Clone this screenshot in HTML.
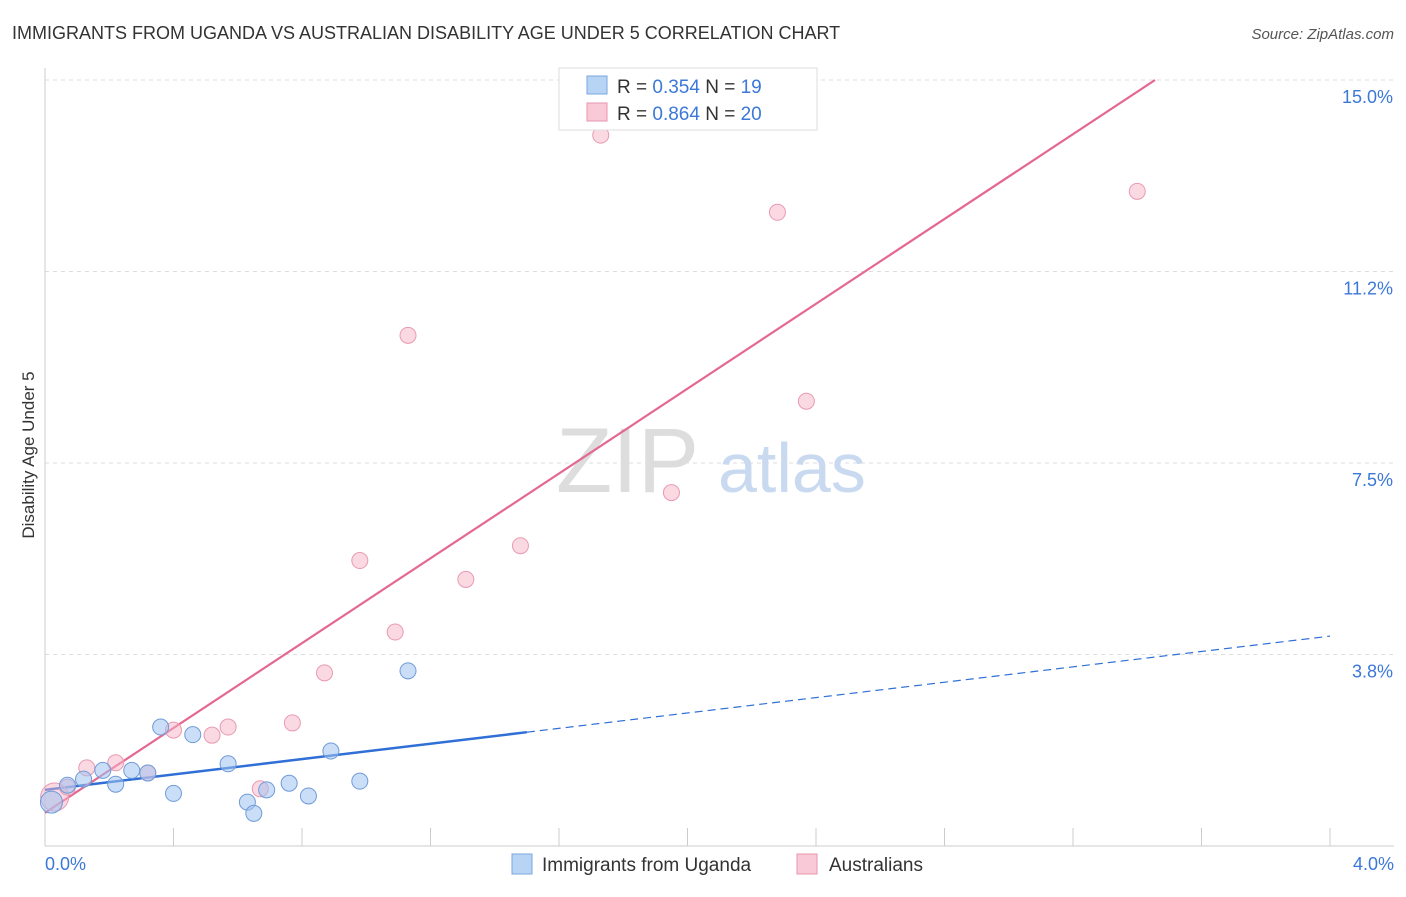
<!DOCTYPE html>
<html><head><meta charset="utf-8"><style>
body{margin:0;background:#fff;font-family:"Liberation Sans",sans-serif;}
svg text{font-family:"Liberation Sans",sans-serif;}
</style></head><body>
<svg id="chart" width="1406" height="892" viewBox="0 0 1406 892" xmlns="http://www.w3.org/2000/svg">
<text x="12" y="39" font-size="18" fill="#333">IMMIGRANTS FROM UGANDA VS AUSTRALIAN DISABILITY AGE UNDER 5 CORRELATION CHART</text>
<text x="1394" y="39" font-size="15" fill="#555" font-style="italic" text-anchor="end">Source: ZipAtlas.com</text>
<text transform="translate(34,455) rotate(-90)" font-size="17" fill="#333" text-anchor="middle">Disability Age Under 5</text>
<g id="grid"></g>
<g id="ticks"></g>
<text x="556" y="492" font-size="92" fill="#ddd" font-family="Liberation Serif">ZIP</text>
<text x="718" y="492" font-size="70" fill="#c9daf0">atlas</text>
<g id="lines"></g>
<g id="points"></g>
<g>
<rect x="559" y="68" width="258" height="62" fill="#fff" stroke="#ddd"/>
<rect x="587" y="76" width="20" height="18" fill="#b8d4f5" stroke="#7aa6df"/>
<text x="617" y="93" font-size="19" fill="#333">R = <tspan fill="#3b78d8">0.354</tspan>   N = <tspan fill="#3b78d8">19</tspan></text>
<rect x="587" y="103" width="20" height="18" fill="#f9c9d7" stroke="#e895ad"/>
<text x="617" y="120" font-size="19" fill="#333">R = <tspan fill="#3b78d8">0.864</tspan>   N = <tspan fill="#3b78d8">20</tspan></text>
</g>
<g>
<rect x="512" y="854" width="20" height="20" fill="#b8d4f5" stroke="#7aa6df"/>
<text x="542" y="871" font-size="19" fill="#333">Immigrants from Uganda</text>
<rect x="797" y="854" width="20" height="20" fill="#f9c9d7" stroke="#e895ad"/>
<text x="829" y="871" font-size="19" fill="#333">Australians</text>
</g>
</svg>
<script>
const xTickLabels=["0.0%","4.0%"];
const yTicks=[3.75,7.5,11.25,15];
const yTickLabels=["3.8%","7.5%","11.2%","15.0%"];
const ugandaX=[0.02,0.07,0.12,0.18,0.22,0.27,0.32,0.36,0.40,0.46,0.57,0.63,0.65,0.69,0.76,0.82,0.89,0.98,1.13];
const ugandaY=[0.86,1.19,1.31,1.48,1.21,1.48,1.43,2.33,1.03,2.18,1.61,0.86,0.64,1.10,1.23,0.98,1.86,1.27,3.43];
const ausX=[0.03,0.07,0.13,0.22,0.32,0.40,0.52,0.57,0.67,0.77,0.87,0.98,1.09,1.13,1.31,1.48,1.73,1.95,2.28,2.37,3.40];
const ausY=[0.96,1.15,1.53,1.63,1.43,2.27,2.17,2.33,1.12,2.41,3.39,5.59,4.19,10.00,5.22,5.88,13.92,6.92,12.41,8.71,12.82];
const ugandaLine=[1.10,4.11]; // y at x=0 and x=4
const ausLine=[0.65,15/3.455*0+4.153]; // intercept, slope
const X=v=>45+v/4*1285, Y=v=>846-v/15*766;
const NS="http://www.w3.org/2000/svg";
function mk(t,a,p){const e=document.createElementNS(NS,t);for(const k in a)e.setAttribute(k,a[k]);p.appendChild(e);return e;}
const grid=document.getElementById('grid'),ticks=document.getElementById('ticks');
yTicks.forEach((v,i)=>{
 const l=mk('line',{x1:45,x2:1394,y1:Y(v),y2:Y(v),stroke:'#ddd','stroke-dasharray':'4,4'},grid);
 
 
 const t=mk('text',{x:1393,y:Y(v)+23,'font-size':18,fill:'#3b78d8','text-anchor':'end'},ticks);
 t.textContent=yTickLabels[i];
 
 
});
const ax=mk('line',{x1:45,x2:1394,y1:846,y2:846,stroke:'#ccc'},ticks);


const ay=mk('line',{x1:45,x2:45,y1:68,y2:846,stroke:'#ccc'},ticks);


for(let i=0;i<=10;i++){const v=i*0.4;
 const t=mk('line',{x1:X(v),x2:X(v),y1:828,y2:846,stroke:'#ccc'},ticks);
 
 }
[[0,45,'start'],[4,1394,'end']].forEach((d,i)=>{
 const t=mk('text',{x:d[1],y:870,'font-size':18,fill:'#3b78d8','text-anchor':d[2]},ticks);
 t.textContent=xTickLabels[i];
 
 });
const lines=document.getElementById('lines');
const uy=x=>ugandaLine[0]+(ugandaLine[1]-ugandaLine[0])*x/4;
let l1=mk('line',{x1:X(0),y1:Y(uy(0)),x2:X(1.5),y2:Y(uy(1.5)),stroke:'#2f6fd6','stroke-width':2.5},lines);


let l2=mk('line',{x1:X(1.5),y1:Y(uy(1.5)),x2:X(4),y2:Y(uy(4)),stroke:'#2f6fd6','stroke-width':1.2,'stroke-dasharray':'8,5'},lines);


const xe=(15-ausLine[0])/ausLine[1];
let l3=mk('line',{x1:X(0),y1:Y(ausLine[0]),x2:X(xe),y2:Y(15),stroke:'#e4688f','stroke-width':2.2},lines);


const pts=document.getElementById('points');
ausX.forEach((x,i)=>{const c=mk('circle',{cx:X(x),cy:Y(ausY[i]),r:i==0?14:8,fill:'rgba(246,180,200,0.5)',stroke:'#e99ab3','stroke-width':1},pts);
 
 });
ugandaX.forEach((x,i)=>{const c=mk('circle',{cx:X(x),cy:Y(ugandaY[i]),r:i==0?11:8,fill:'rgba(160,195,240,0.55)',stroke:'#6f9bd8','stroke-width':1},pts);
 
 });
</script>
</body></html>
